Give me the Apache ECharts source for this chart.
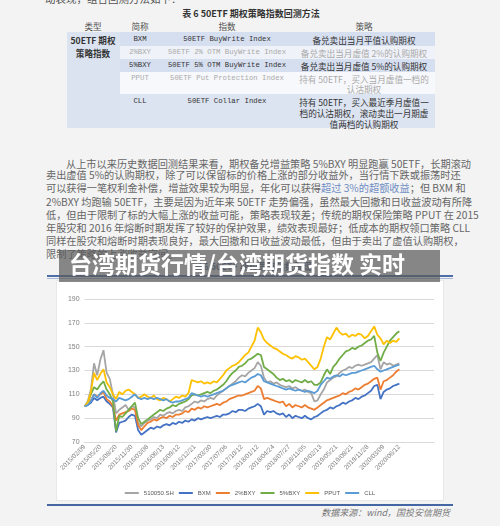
<!DOCTYPE html>
<html><head><meta charset="utf-8">
<script src="https://cdn.jsdelivr.net/npm/echarts@6/dist/echarts.min.js"></script>
<style>
html,body{margin:0;padding:0;width:500px;height:526px;overflow:hidden;background:#f3f3f3;font-family:"Noto Sans CJK SC",sans-serif;}
.a{position:absolute;white-space:nowrap;}
.c{position:absolute;white-space:nowrap;transform:translate(-50%,-50%);line-height:1;}
.m{font-family:"Liberation Mono",monospace;font-size:7.3px;}
.z{font-size:8.6px;}
.dk{color:#333;}
.lt{color:#aaa;}
.p{position:absolute;left:46px;width:409px;font-size:10.2px;line-height:13px;color:#666;text-align:justify;text-align-last:justify;white-space:nowrap;}
</style></head><body>
<!-- document text above the chart -->
<div class="a" style="left:45px;top:-8px;font-size:10.5px;line-height:14px;color:#555;">动表现，组合回测方法如下：</div>
<div class="c" style="left:251px;top:13px;font-size:9px;font-weight:bold;color:#333;">表 6 50ETF 期权策略指数回测方法</div>
<div class="c z" style="left:93px;top:26px;color:#555;">类型</div>
<div class="c z" style="left:140px;top:26px;color:#555;">简称</div>
<div class="c z" style="left:227px;top:26px;color:#555;">指数</div>
<div class="c z" style="left:364px;top:26px;color:#555;">策略</div>
<div class="a" style="left:67px;top:32px;width:53px;height:96px;background:#dbe3f1;"></div>
<div class="a" style="left:120px;top:32px;width:315px;height:14px;background:#d6dff0;"></div>
<div class="a" style="left:120px;top:46px;width:315px;height:13px;background:#eff2f8;"></div>
<div class="a" style="left:120px;top:59px;width:315px;height:13px;background:#d6dff0;"></div>
<div class="a" style="left:120px;top:72px;width:315px;height:22px;background:#f7f8fb;"></div>
<div class="a" style="left:120px;top:94px;width:315px;height:34px;background:#dce3f1;"></div>
<div class="c z dk" style="left:93px;top:40px;font-weight:bold;">50ETF 期权</div>
<div class="c z dk" style="left:93px;top:53px;font-weight:bold;">策略指数</div>
<div class="c m dk" style="left:140px;top:39.5px;">BXM</div>
<div class="c m dk" style="left:227px;top:39.5px;">50ETF BuyWrite Index</div>
<div class="c z dk" style="left:364px;top:39.5px;">备兑卖出当月平值认购期权</div>
<div class="c m lt" style="left:140px;top:52.5px;">2%BXY</div>
<div class="c m lt" style="left:227px;top:52.5px;">50ETF 2% OTM BuyWrite Index</div>
<div class="c z lt" style="left:364px;top:52.5px;">备兑卖出当月虚值 2%的认购期权</div>
<div class="c m dk" style="left:140px;top:65.5px;">5%BXY</div>
<div class="c m dk" style="left:227px;top:65.5px;">50ETF 5% OTM BuyWrite Index</div>
<div class="c z dk" style="left:364px;top:65.5px;">备兑卖出当月虚值 5%的认购期权</div>
<div class="c m lt" style="left:140px;top:79px;">PPUT</div>
<div class="c m lt" style="left:227px;top:79px;">50ETF Put Protection Index</div>
<div class="c z lt" style="left:364px;top:79px;">持有 50ETF，买入当月虚值一档的</div>
<div class="c z lt" style="left:364px;top:89px;">认沽期权</div>
<div class="c m dk" style="left:140px;top:101.5px;">CLL</div>
<div class="c m dk" style="left:227px;top:101.5px;">50ETF Collar Index</div>
<div class="c z dk" style="left:364px;top:101.5px;">持有 50ETF，买入最近季月虚值一</div>
<div class="c z dk" style="left:364px;top:113px;">档的认沽期权，滚动卖出一月期虚</div>
<div class="c z dk" style="left:364px;top:124px;">值两档的认购期权</div>

<div class="p" style="left:66px;width:389px;top:157px;">从上市以来历史数据回测结果来看，期权备兑增益策略 5%BXY 明显跑赢 50ETF，长期滚动</div>
<div class="p" style="top:168px;">卖出虚值 5%的认购期权，除了可以保留标的价格上涨的部分收益外，当行情下跌或振荡时还</div>
<div class="p" style="top:181px;">可以获得一笔权利金补偿，增益效果较为明显，年化可以获得<span style="color:#6d8cc4">超过 3%的超额收益</span>；但 BXM 和</div>
<div class="p" style="top:195px;">2%BXY 均跑输 50ETF，主要是因为近年来 50ETF 走势偏强，虽然最大回撤和日收益波动有所降</div>
<div class="p" style="top:208px;">低，但由于限制了标的大幅上涨的收益可能，策略表现较差；传统的期权保险策略 PPUT 在 2015</div>
<div class="p" style="top:221px;">年股灾和 2016 年熔断时期发挥了较好的保护效果，绩效表现最好；低成本的期权领口策略 CLL</div>
<div class="p" style="top:233.5px;">同样在股灾和熔断时期表现良好，最大回撤和日收益波动最低，但由于卖出了虚值认购期权，</div>
<div class="a" style="left:46px;top:247px;font-size:10.2px;line-height:13px;color:#666;">限制了策略的上涨收益空间。</div>
<div class="c" style="left:252px;top:266px;font-size:9px;font-weight:bold;color:#4a5f8a;">图 6 50ETF 期权策略指数表现</div>

<div class="a" style="left:47px;top:275px;width:406px;height:2px;background:#4d6ea6;"></div>
<div class="a" style="left:47px;top:278px;width:406px;height:1px;background:#a8b8d6;"></div>

<div id="chart" class="a" style="left:57px;top:281px;width:386px;height:219px;background:#fff;outline:1px solid #e8e8e8;"></div>

<div class="a" style="left:47px;top:503.5px;width:406px;height:2px;background:#4466a3;"></div>
<div class="a" style="right:50px;top:507px;font-size:9px;line-height:12px;color:#777;font-style:italic;">数据来源：wind，国投安信期货</div>

<div class="a" style="left:59px;top:250px;width:381px;height:32px;background:rgba(92,92,92,0.72);z-index:10;">
  <div class="a" style="left:10px;top:0;font-size:23px;line-height:26px;font-weight:bold;color:#fff;">台湾期货行情/台湾期货指数 实时</div>
</div>

<script>
const tickLabels = ['2015/02/09','2015/05/20','2015/08/20','2015/11/30','2016/03/08','2016/06/13','2016/09/12','2016/12/21','2017/03/30','2017/07/06','2017/10/12','2018/01/12','2018/04/24','2018/07/27','2018/11/05','2019/02/13','2019/05/21','2019/08/21','2019/11/28','2020/03/09','2020/06/12'];
const seriesNames = ['510050.SH','BXM','2%BXY','5%BXY','PPUT','CLL'];
const S510050 = [100,104,114,136,126,139,147,128,123,110,
  94,97,99,101,97,100,99,86,83,86,
  88,89,91,90,93,92,94,95,94,96,
  97,96,99,100,102,104,103,105,104,106,
  107,106,109,111,113,115,117,119,121,124,
  126,125,128,130,132,137,134,124,120,121,
  119,120,118,117,116,117,115,116,114,113,
  114,112,111,104,105,110,114,120,122,124,
  125,128,130,131,133,132,134,135,134,135,
  136,137,140,143,131,137,135,136,134,135,
  136];
const BXM = [100,101,103,107,105,107,108,104,102,99,
  78,86,87,88,91,93,92,80,76,78,
  80,82,81,83,82,84,85,84,86,85,
  87,86,88,87,89,88,90,89,90,91,
  90,91,92,91,93,93,94,96,95,97,
  97,96,98,99,100,102,100,93,96,95,
  96,94,93,94,91,93,90,92,91,90,
  92,90,89,91,92,94,96,97,99,98,
  100,101,103,102,104,105,107,106,108,109,
  111,113,117,118,106,112,114,115,117,118,
  119];
const BXY2 = [100,102,105,110,108,110,112,106,104,100,
  88,93,94,95,96,98,97,84,80,83,
  86,87,89,88,90,91,90,92,91,93,
  93,94,96,95,98,97,99,98,100,99,
  100,101,102,101,103,104,106,107,108,109,
  109,110,111,112,113,117,115,106,107,106,
  105,104,103,104,100,102,99,101,100,99,
  101,99,98,97,99,101,103,105,106,107,
  108,109,111,110,112,113,115,114,116,118,
  119,121,123,124,114,121,122,124,126,129,
  131];
const BXY5 = [100,103,110,116,114,118,121,114,110,104,
  79,92,91,94,97,100,103,90,85,87,
  89,91,93,95,97,96,98,99,101,100,
  102,103,104,106,109,110,109,110,111,112,
  111,113,114,116,118,121,125,128,130,133,
  134,136,139,140,142,144,143,133,131,129,
  127,124,122,123,121,122,120,122,121,120,
  122,120,121,118,118,120,126,131,127,133,
  136,140,143,146,147,149,148,150,151,153,
  155,156,159,145,138,145,150,155,158,161,
  163];
const PPUT = [100,103,112,128,122,127,131,120,116,110,
  106,112,110,113,114,112,110,107,108,110,
  108,107,109,106,105,107,106,104,106,108,
  107,109,108,111,122,121,120,121,119,120,
  119,121,120,123,126,130,132,134,135,137,
  140,143,145,150,155,166,162,156,153,151,
  149,148,146,144,143,141,140,142,141,139,
  140,137,134,131,133,140,150,158,156,161,
  166,162,160,161,158,160,159,161,160,157,
  159,163,167,160,157,152,155,153,155,154,
  157];
const CLL = [100,101,104,110,107,111,113,109,107,106,
  104,107,106,105,106,108,110,107,106,107,
  106,107,106,107,106,105,106,104,103,104,
  104,105,106,107,111,110,109,108,109,108,
  109,110,111,112,113,115,117,118,119,120,
  121,120,122,124,125,127,126,121,120,119,
  118,117,116,115,114,115,114,113,114,113,
  112,113,112,111,113,118,121,124,123,125,
  126,125,127,126,127,128,128,129,130,131,
  132,133,134,131,129,130,131,132,133,134,
  135];
const seriesColors = ['#A5A5A5','#4472C4','#ED7D31','#70AD47','#FFC000','#5B9BD5'];
const STEP = 5;       // categories between two shown tick labels
const TRAIL = 11;     // empty categories after the last label (axis runs past the data)

// category axis: each shown label followed by unlabeled in-between dates
const categories = [];
tickLabels.forEach((d, k) => {
  categories.push(d);
  const n = k < tickLabels.length - 1 ? STEP - 1 : TRAIL;
  for (let j = 1; j <= n; j++) categories.push(d + '+' + j);
});

const allData = [S510050, BXM, BXY2, BXY5, PPUT, CLL];
const chart = echarts.init(document.getElementById('chart'), null, {renderer: 'canvas'});
chart.setOption({
  animation: false,
  backgroundColor: '#fff',
  grid: {left: 26, right: 9, top: 18, bottom: 58},
  legend: {
    data: seriesNames, left: 'center', top: 204,
    icon: 'rect', itemWidth: 14, itemHeight: 2, itemGap: 5,
    textStyle: {fontSize: 6, color: '#595959', fontFamily: 'Liberation Sans'}
  },
  xAxis: {
    type: 'category', data: categories, boundaryGap: false,
    axisLine: {lineStyle: {color: '#d9d9d9'}},
    axisTick: {show: false},
    axisLabel: {
      rotate: 45, fontSize: 6.5, color: '#7f7f7f', margin: 4, fontFamily: 'Liberation Sans',
      interval: (i) => i % STEP === 0 && i <= (tickLabels.length - 1) * STEP,
      formatter: (v) => v.indexOf('+') >= 0 ? '' : v
    }
  },
  yAxis: {
    type: 'value', min: 70, max: 190, interval: 20,
    axisLine: {show: false}, axisTick: {show: false},
    axisLabel: {fontSize: 7, color: '#7f7f7f', margin: 5, fontFamily: 'Liberation Sans'},
    splitLine: {lineStyle: {color: '#d9d9d9', width: 1}}
  },
  series: seriesNames.map((n, k) => ({
    name: n, type: 'line', data: allData[k], showSymbol: false, symbol: 'none',
    lineStyle: {width: 1.8, color: seriesColors[k]}, itemStyle: {color: seriesColors[k]}
  }))
});
</script>
</body></html>
